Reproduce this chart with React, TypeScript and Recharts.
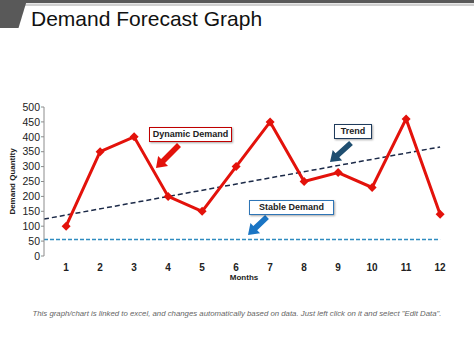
import { ComposedChart, Line, XAxis, YAxis } from 'recharts';

const months = [1, 2, 3, 4, 5, 6, 7, 8, 9, 10, 11, 12];
const demand = [100, 350, 400, 200, 150, 300, 450, 250, 280, 230, 460, 140];
const trendX = [0.35, 12];
const trendY = [124, 366];
const stableX = [0.35, 12];
const stableY = [55, 55];
const yTicks = [0, 50, 100, 150, 200, 250, 300, 350, 400, 450, 500];
const bandEdges = [0.5, 1.5, 2.5, 3.5, 4.5, 5.5, 6.5, 7.5, 8.5, 9.5, 10.5, 11.5, 12.5];

const demandData = months.map((m, i) => ({ x: m, y: demand[i] }));
const trendData = trendX.map((x, i) => ({ x, y: trendY[i] }));
const stableData = stableX.map((x, i) => ({ x, y: stableY[i] }));

const FONT = '"Liberation Sans", Arial, sans-serif';

const Diamond = (props: any) => {
  const { cx, cy } = props;
  if (cx == null || cy == null) return null;
  const s = 4.5;
  return (
    <polygon
      points={`${cx},${cy - s} ${cx + s},${cy} ${cx},${cy + s} ${cx - s},${cy}`}
      fill="#e3120b"
    />
  );
};

// block arrow from tail to tip
const Arrow = ({ x1, y1, x2, y2, color }: any) => {
  const dx = x2 - x1;
  const dy = y2 - y1;
  const len = Math.sqrt(dx * dx + dy * dy);
  const ang = (Math.atan2(dy, dx) * 180) / Math.PI;
  const head = 10;
  const pts = `0,-2.8 ${len - head},-2.8 ${len - head},-7 ${len},0 ${len - head},7 ${len - head},2.8 0,2.8`;
  return <polygon points={pts} fill={color} transform={`translate(${x1},${y1}) rotate(${ang})`} />;
};

const boxStyle = (left: number, top: number, width: number, border: string): any => ({
  position: 'absolute',
  left,
  top,
  width,
  height: 15,
  boxSizing: 'border-box',
  border: `1.5px solid ${border}`,
  background: '#fff',
  boxShadow: '1px 1px 2px rgba(0,0,0,0.35)',
  fontFamily: FONT,
  fontWeight: 'bold',
  fontSize: 9,
  color: '#222',
  textAlign: 'center',
  lineHeight: '12px',
});

export default function App() {
  return (
    <div style={{ position: 'absolute', left: 0, top: 0, width: 474, height: 355, background: '#fff', overflow: 'hidden' }}>
      <svg width={474} height={355} style={{ position: 'absolute', left: 0, top: 0 }}>
        <rect x={0} y={0} width={474} height={3} fill="#595959" />
        <rect x={0} y={3.5} width={474} height={2.5} fill="#d0d0d0" />
        <polygon points="0,0 27,0 18.5,28 0,28" fill="#595959" />
        <text x={31} y={26} fontFamily={FONT} fontSize={21} fill="#111">
          Demand Forecast Graph
        </text>
        <text x={237} y={316} fontFamily={FONT} fontSize={7.8} fontStyle="italic" fill="#666" textAnchor="middle">
          This graph/chart is linked to excel, and changes automatically based on data. Just left click on it and select "Edit Data".
        </text>
      </svg>
      <div style={{ position: 'absolute', left: 0, top: 0 }}>
        <ComposedChart width={474} height={355} margin={{ top: 107, right: 22, bottom: 69, left: 0 }}>
          <XAxis
            xAxisId="edges"
            type="number"
            dataKey="x"
            domain={[0.5, 12.5]}
            ticks={bandEdges}
            tick={false}
            tickSize={4}
            height={0}
            stroke="#8c8c8c"
            interval={0}
            allowDataOverflow
          />
          <XAxis
            xAxisId="m"
            type="number"
            dataKey="x"
            domain={[0.35, 12.35]}
            ticks={months}
            interval={0}
            axisLine={false}
            tickLine={false}
            height={30}
            tickMargin={2}
            allowDataOverflow
            tick={{ fontFamily: FONT, fontSize: 10, fontWeight: 'bold', fill: '#222' }}
            label={{ value: 'Months', position: 'insideBottom', offset: 6, dx: -4, style: { fontFamily: FONT, fontSize: 8, fontWeight: 'bold', fill: '#222' } }}
          />
          <YAxis
            type="number"
            domain={[0, 500]}
            ticks={yTicks}
            interval={0}
            width={44}
            tickSize={3}
            tickMargin={1}
            stroke="#8c8c8c"
            tick={{ fontFamily: FONT, fontSize: 10.5, fill: '#222' }}
            label={{ value: 'Demand Quantity', angle: -90, position: 'insideLeft', offset: 12, style: { textAnchor: 'middle', fontFamily: FONT, fontSize: 8, fontWeight: 'bold', fill: '#222' } }}
          />
          <Line
            xAxisId="m"
            data={stableData}
            dataKey="y"
            stroke="#2f8cc0"
            strokeWidth={1.5}
            strokeDasharray="4 2"
            dot={false}
            isAnimationActive={false}
          />
          <Line
            xAxisId="m"
            data={trendData}
            dataKey="y"
            stroke="#1c2a48"
            strokeWidth={1.5}
            strokeDasharray="5 3"
            dot={false}
            isAnimationActive={false}
          />
          <Line
            xAxisId="m"
            data={demandData}
            dataKey="y"
            type="linear"
            stroke="#e3120b"
            strokeWidth={3}
            dot={<Diamond />}
            activeDot={false}
            isAnimationActive={false}
          />
        </ComposedChart>
      </div>
      <svg width={474} height={355} style={{ position: 'absolute', left: 0, top: 0, pointerEvents: 'none' }}>
        <Arrow x1={179} y1={145} x2={156} y2={168} color="#e3120b" />
        <Arrow x1={351} y1={143} x2={330} y2={162} color="#1f4e70" />
        <Arrow x1={267} y1={217} x2={248} y2={235} color="#1a75c4" />
      </svg>
      <div style={boxStyle(149, 127, 83, '#c00000')}>Dynamic Demand</div>
      <div style={boxStyle(334, 124, 38, '#1f3b5c')}>Trend</div>
      <div style={boxStyle(249, 200, 85, '#2e75b6')}>Stable Demand</div>
    </div>
  );
}
